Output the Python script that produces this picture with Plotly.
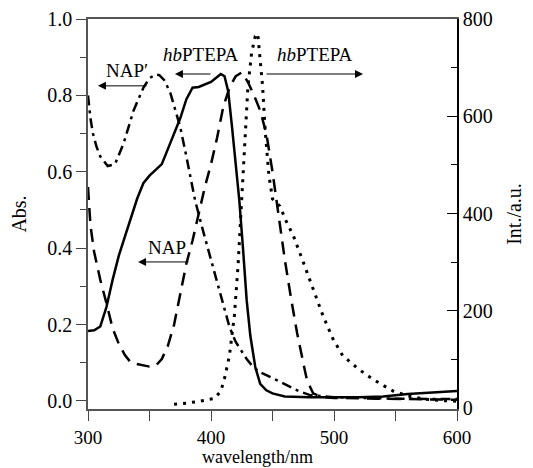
import plotly.graph_objects as go

# hbPTEPA absorption (solid, left axis)
wl_hb_abs = [300,305,310,315,320,325,330,335,340,345,350,355,360,365,370,375,380,385,390,395,400,405,408,411,414,417,420,423,426,429,432,436,440,445,450,460,480,500,520,540,560,580,600]
abs_hb = [0.183,0.185,0.195,0.246,0.317,0.38,0.43,0.48,0.53,0.57,0.59,0.605,0.62,0.66,0.70,0.74,0.79,0.82,0.822,0.828,0.835,0.848,0.856,0.85,0.81,0.72,0.62,0.526,0.40,0.264,0.17,0.089,0.045,0.028,0.02,0.012,0.01,0.01,0.01,0.012,0.018,0.022,0.026]

# NAP absorption (dashed, left axis)
wl_nap = [300,302,305,310,315,320,325,330,335,340,345,350,355,360,365,370,375,380,385,390,395,400,405,410,415,420,425,430,435,440,445,450,455,460,465,470,475,478,483,490,500,550,600]
abs_nap = [0.56,0.46,0.39,0.317,0.256,0.19,0.15,0.12,0.10,0.097,0.095,0.09,0.092,0.11,0.145,0.2,0.28,0.36,0.42,0.49,0.56,0.62,0.69,0.77,0.82,0.85,0.86,0.835,0.80,0.76,0.70,0.60,0.48,0.37,0.27,0.178,0.10,0.055,0.02,0.01,0.008,0.005,0.003]

# NAP' absorption (dash-dot, left axis)
wl_napp = [300,302,304,307,310,316,322,329,337,345,350,355,358,362,367,371,375,380,387,394,400,405,410,415,420,424,429,434,440,448,456,464,472,480,500,550,600]
abs_napp = [0.80,0.74,0.70,0.665,0.64,0.615,0.62,0.675,0.76,0.82,0.845,0.855,0.853,0.84,0.806,0.76,0.717,0.64,0.526,0.44,0.37,0.31,0.25,0.194,0.155,0.134,0.11,0.09,0.075,0.063,0.05,0.037,0.025,0.016,0.01,0.006,0.005]

# hbPTEPA emission (dotted, right axis)
wl_em = [370,380,391,403,408,411,415,419,422,425,428,430,433,436,438,440,442,444,447,450,456,461,467,475,483,491,499,507,519,527,537,548,560,575,590,600]
int_em = [8,10,14,20,35,61,108,190,293,430,587,660,730,765,770,720,660,573,480,430,415,385,354,300,245,190,143,108,82,67,51,35,25,18,15,14]

x_ticks = [300, 400, 500, 600]
FONT = "Liberation Serif"

fig = go.Figure()
fig.add_trace(go.Scatter(x=wl_hb_abs, y=abs_hb, mode="lines",
                         line=dict(color="black", width=2.5), yaxis="y"))
fig.add_trace(go.Scatter(x=wl_nap, y=abs_nap, mode="lines",
                         line=dict(color="black", width=2.5, dash="13px,8px"), yaxis="y"))
fig.add_trace(go.Scatter(x=wl_napp, y=abs_napp, mode="lines",
                         line=dict(color="black", width=2.5, dash="10px,5px,3px,5px"), yaxis="y"))
fig.add_trace(go.Scatter(x=wl_em, y=int_em, mode="lines",
                         line=dict(color="black", width=3, dash="3px,6px"), yaxis="y2"))

ann = []
def label(x, y, text):
    ann.append(dict(x=x, y=y, xref="x", yref="y", text=text, showarrow=False,
                    font=dict(family=FONT, size=19, color="black")))
def arrow(x0, x1, y):
    ann.append(dict(x=x1, y=y, ax=x0, ay=y, xref="x", yref="y", axref="x", ayref="y",
                    text="", showarrow=True, arrowhead=2, arrowsize=1.6, arrowwidth=1,
                    arrowcolor="black"))

label(331.3, 0.864, "NAP′")
arrow(348.8, 308.1, 0.825)
label(391.9, 0.906, "<i>hb</i>PTEPA")
arrow(400.8, 370.7, 0.856)
label(484.6, 0.906, "<i>hb</i>PTEPA")
arrow(443.9, 523.6, 0.856)
label(364.2, 0.403, "NAP")
arrow(382.9, 340.7, 0.364)

# x-axis title (placed slightly left of centre, as in the original)
ann.append(dict(x=0.4607, y=0, xref="paper", yref="paper", yanchor="middle",
                yshift=-48, text="wavelength/nm", showarrow=False,
                font=dict(family=FONT, size=18, color="black")))

fig.update_layout(
    width=525, height=460,
    margin=dict(l=80, r=76, t=11, b=59, autoexpand=False),
    paper_bgcolor="white", plot_bgcolor="white",
    showlegend=False,
    font=dict(family=FONT, size=20, color="black"),
    annotations=ann,
    xaxis=dict(range=[300, 600], tickvals=x_ticks, ticks="outside", ticklen=10,
               tickcolor="#444", showline=True, linecolor="#555", linewidth=1.5, mirror=True,
               showgrid=False, zeroline=False, automargin=False,
               minor=dict(dtick=50, ticks="outside", ticklen=10, tickcolor="#444"),
               tickfont=dict(family=FONT, size=19)),
    yaxis=dict(range=[-0.021, 1.0], dtick=0.2, tick0=0, tickformat=".1f", ticks="outside",
               ticklen=10, tickcolor="#444", showline=True, linecolor="#555", linewidth=1.5,
               showgrid=False, zeroline=False, automargin=False,
               minor=dict(dtick=0.1, tick0=0, ticks="outside", ticklen=6, tickcolor="#444"),
               title=dict(text="Abs.", standoff=16, font=dict(family=FONT, size=20)),
               tickfont=dict(family=FONT, size=20)),
    yaxis2=dict(range=[-2, 800], dtick=200, tick0=0, overlaying="y", side="right",
                ticks="inside", ticklen=10, tickcolor="black", showline=True,
                linecolor="black", linewidth=1.5, showgrid=False, zeroline=False,
                automargin=False,
                minor=dict(dtick=100, tick0=0, ticks="inside", ticklen=6, tickcolor="black"),
                title=dict(text="Int./a.u.", standoff=15, font=dict(family=FONT, size=20)),
                tickfont=dict(family=FONT, size=20)),
)

fig.write_html("out.html")
